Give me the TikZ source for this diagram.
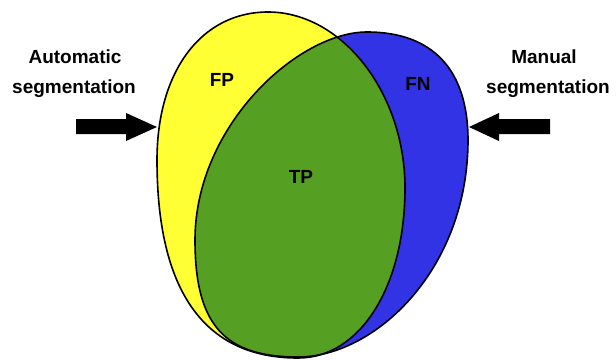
\documentclass[tikz,border=0pt]{standalone}
\usepackage{fontspec}
\setmainfont{Liberation Sans}
\begin{document}
\begin{tikzpicture}[x=1pt,y=-1pt,
  lbl/.style={font=\fontsize{19}{19}\selectfont\bfseries, inner sep=0pt, anchor=base},
  region/.style={font=\fontsize{19}{19}\selectfont\bfseries, inner sep=0pt},
  outline/.style={draw=black, line width=1.6pt},
  bigarrow/.style={fill=black}]
\definecolor{autoyellow}{RGB}{255,255,51}
\definecolor{manblue}{RGB}{51,51,230}
\definecolor{tpgreen}{RGB}{85,160,35}
\useasboundingbox (0,0) rectangle (616,359);

% automatic segmentation (yellow): an egg-shaped closed curve
\def\autoshape{(268,12) .. controls (201.4,12) and (157,71.2) .. (157,160)
  .. controls (157,299) and (210,358) .. (298,358)
  .. controls (360,358) and (405,286.6) .. (405,188)
  .. controls (405,93) and (342,12) .. (268,12) -- cycle}
% manual segmentation (blue): a leaning oval
\def\manshape{(367,32) .. controls (432.7,32) and (468,69.8) .. (468,140)
  .. controls (468,270) and (374.5,357) .. (298,357)
  .. controls (223.8,357) and (195,324.2) .. (195,240)
  .. controls (195,125.6) and (298.2,32) .. (367,32) -- cycle}

\fill[autoyellow] \autoshape;
\fill[manblue] \manshape;
\begin{scope}
  \clip \autoshape;
  \fill[tpgreen] \manshape;
\end{scope}
\draw[outline] \autoshape;
\draw[outline] \manshape;

% region labels
\node[region] (fp) at (222,80) {FP};
\node[region] (fn) at (418,84) {FN};
\node[region] (tp) at (301,177) {TP};

% captions
\node[lbl] (auto1) at (75,63) {Automatic};
\node[lbl] (auto2) at (74,93) {segmentation};
\node[lbl] (man1) at (544,63) {Manual};
\node[lbl] (man2) at (548,93) {segmentation};

% block arrows pointing at the outlines
\coordinate (la) at (157,127);
\coordinate (ra) at (469,127);
\fill[bigarrow] (la) -- ++(-31,-14) -- ++(0,6) -- ++(-50,0) -- ++(0,15)
  -- ++(50,0) -- ++(0,7) -- cycle;
\fill[bigarrow] (ra) -- ++(30,-14) -- ++(0,6) -- ++(51,0) -- ++(0,15)
  -- ++(-51,0) -- ++(0,7) -- cycle;
\end{tikzpicture}
\end{document}
